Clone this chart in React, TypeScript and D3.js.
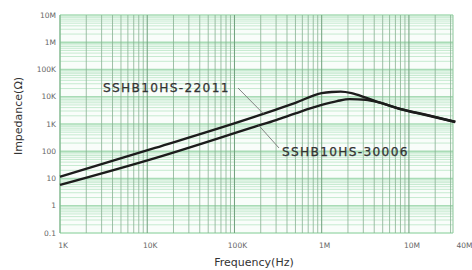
import React from 'react';
import * as d3 from 'd3';

const W = 472;
const H = 270;

// Series: SSHB10HS-22011 (upper) and SSHB10HS-30006 (lower)
const seriesNames = ['SSHB10HS-22011', 'SSHB10HS-30006'];
const freqA = [1e3, 1.23e4, 1.72e5, 3e5, 5e5, 1e6, 1.3e6, 1.65e6, 2.2e6, 3.2e6, 4.6e6, 7.9e6, 1.6e7, 3.4e7];
const impA = [11.6, 132, 1860, 3400, 6000, 13600, 15000, 15400, 13600, 9300, 6200, 3600, 2150, 1200];
const freqB = [1e3, 1.23e4, 1.72e5, 3e5, 5e5, 1e6, 1.5e6, 2.1e6, 3.2e6, 4.6e6, 7.9e6, 1.6e7, 3.4e7];
const impB = [5.8, 56, 800, 1400, 2460, 5000, 6900, 8200, 7800, 6100, 3550, 2100, 1180];

const xTickValues = [1e3, 1e4, 1e5, 1e6, 1e7, 4e7];
const xTickLabels = ['1K', '10K', '100K', '1M', '10M', '40M'];
const yTickValues = [0.1, 1, 10, 100, 1e3, 1e4, 1e5, 1e6, 1e7];
const yTickLabels = ['0.1', '1', '10', '100', '1K', '10K', '100K', '1M', '10M'];

const xTitle = 'Frequency(Hz)';
const yTitle = 'Impedance(Ω)';

export default function App() {
  const left = 60, right = 453, top = 15, bottom = 233;
  const x = d3.scaleLog().domain([1e3, 3.2e7]).range([left, right]);
  const y = d3.scaleLog().domain([0.1, 1e7]).range([bottom, top]);

  const vLines: { v: number; major: boolean }[] = [];
  for (let d = 3; d <= 7; d++) {
    for (let k = 1; k <= 9; k++) {
      const v = k * Math.pow(10, d);
      if (v <= 3.2e7 * 1.0001) vLines.push({ v, major: k === 1 });
    }
  }
  const hLines: { v: number; major: boolean }[] = [];
  for (let d = -1; d <= 6; d++) {
    for (let k = 1; k <= 9; k++) hLines.push({ v: k * Math.pow(10, d), major: k === 1 });
  }
  hLines.push({ v: 1e7, major: true });

  const line = d3
    .line<[number, number]>()
    .x((d) => x(d[0]))
    .y((d) => y(d[1]))
    .curve(d3.curveMonotoneX);

  const dataA = freqA.map((f, i) => [f, impA[i]] as [number, number]);
  const dataB = freqB.map((f, i) => [f, impB[i]] as [number, number]);

  // leader anchor points on curves
  const aFreq = 2.15e5;
  const bFreq = 1.9e5;
  const aAt = d3.scaleLog().domain(freqA).range(impA.map((v) => Math.log10(v)));
  const bAt = d3.scaleLog().domain(freqB).range(impB.map((v) => Math.log10(v)));
  const ax = x(aFreq), ay = y(Math.pow(10, aAt(aFreq)));
  const bx = x(bFreq), by = y(Math.pow(10, bAt(bFreq)));

  return (
    <svg
      width={W}
      height={H}
      style={{ position: 'absolute', left: 0, top: 0, background: '#fff' }}
      fontFamily="DejaVu Sans, sans-serif"
    >
      <rect x={left} y={top} width={right - left} height={bottom - top} fill="#f9fdfa" />
      {hLines.map((h, i) => (
        <line
          key={'h' + i}
          x1={left}
          x2={right}
          y1={y(h.v)}
          y2={y(h.v)}
          stroke={h.major ? '#a9dcb6' : '#c6ead0'}
          strokeWidth={h.major ? 1.6 : 1}
        />
      ))}
      {vLines.map((l, i) => (
        <line
          key={'v' + i}
          x1={x(l.v)}
          x2={x(l.v)}
          y1={top}
          y2={bottom}
          stroke={l.major ? '#6f9f7c' : '#88b092'}
          strokeWidth={l.major ? 1 : 0.8}
        />
      ))}
      <line x1={left} x2={left} y1={top} y2={bottom} stroke="#8cc79a" strokeWidth={1} />
      <line x1={right} x2={right} y1={top} y2={bottom} stroke="#8cc79a" strokeWidth={1} />

      {yTickValues.map((v, i) => (
        <text key={'yt' + i} x={56} y={y(v)} dy="0.35em" textAnchor="end" fontSize={7.5} fill="#666">
          {yTickLabels[i]}
        </text>
      ))}
      {xTickValues.map((v, i) => (
        <text key={'xt' + i} x={x(v) + 3} y={245} dy="0.35em" textAnchor="middle" fontSize={7.5} fill="#666">
          {xTickLabels[i]}
        </text>
      ))}

      <text
        transform={`translate(18,116) rotate(-90)`}
        textAnchor="middle"
        dy="0.35em"
        fontSize={11}
        fill="#333"
      >
        {yTitle}
      </text>
      <text x={254} y={262} textAnchor="middle" dy="0.35em" fontSize={11} fill="#333">
        {xTitle}
      </text>

      <path d={line(dataA) || ''} fill="none" stroke="#1c1c1c" strokeWidth={2.4} />
      <path d={line(dataB) || ''} fill="none" stroke="#1c1c1c" strokeWidth={2.4} />

      <line x1={238} y1={88} x2={ax} y2={ay} stroke="#777" strokeWidth={0.9} />
      <line x1={279} y1={148} x2={bx} y2={by} stroke="#777" strokeWidth={0.9} />
      <text x={103} y={88} dy="0.35em" fontSize={12.2} fill="#333" stroke="#333" strokeWidth={0.25} letterSpacing={1.3}>
        {seriesNames[0]}
      </text>
      <text x={282} y={152} dy="0.35em" fontSize={12.2} fill="#333" stroke="#333" strokeWidth={0.25} letterSpacing={1.3}>
        {seriesNames[1]}
      </text>
    </svg>
  );
}
